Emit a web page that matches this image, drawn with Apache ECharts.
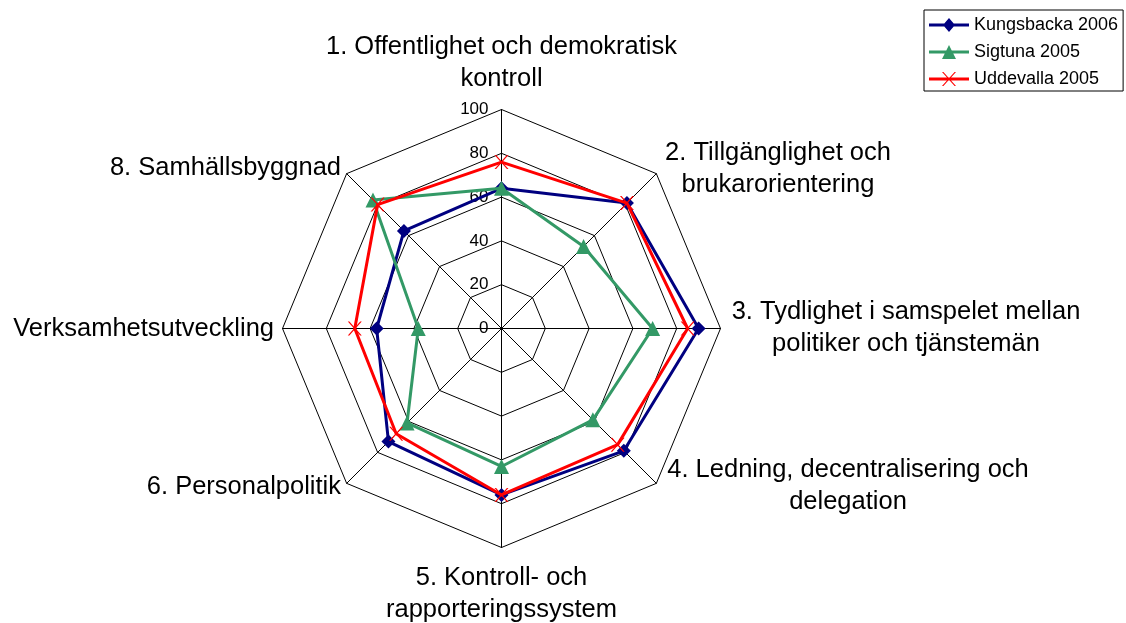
<!DOCTYPE html>
<html><head><meta charset="utf-8">
<script src="https://cdn.jsdelivr.net/npm/echarts@6/dist/echarts.min.js"></script>
<style>html,body{margin:0;padding:0;background:#fff}#c{width:1126px;height:623px}</style>
</head><body><div id="c"></div>
<script>
const categories = [
  '1. Offentlighet och demokratisk\nkontroll',
  '2. Tillgänglighet och\nbrukarorientering',
  '3. Tydlighet i samspelet mellan\npolitiker och tjänstemän',
  '4. Ledning, decentralisering och\ndelegation',
  '5. Kontroll- och\nrapporteringssystem',
  '6. Personalpolitik',
  'Verksamhetsutveckling',
  '8. Samhällsbyggnad'
];
const kungsbacka2006 = [64, 81, 90, 79, 76, 73, 57, 63];
const sigtuna2005   = [64, 53, 69, 59, 63, 61, 38, 83];
const uddevalla2005 = [76, 81, 85, 75, 76, 68, 67, 80];
const tickLabels = ['0', '20', '40', '60', '80', '100'];
const seriesNames = ['Kungsbacka 2006', 'Sigtuna 2005', 'Uddevalla 2005'];

const FONT = '"Liberation Sans", Arial, sans-serif';
const cx = 501.5, cy = 328.5, R = 219;
// radar places indicators counter-clockwise; reference runs clockwise
const order = [0, 7, 6, 5, 4, 3, 2, 1];

const xPath = 'path://M0,0L1.6,0L14,14L12.4,14Z M1.6,14L0,14L12.4,0L14,0Z';
const legendIcons = [
  'path://M0,5.5L15.3,5.5L20,0L24.7,5.5L40,5.5L40,8.5L24.7,8.5L20,14L15.3,8.5L0,8.5Z',
  'path://M0,5.5L17.25,5.5L20,0L22.75,5.5L40,5.5L40,8.5L24.25,8.5L27,14L13,14L15.75,8.5L0,8.5Z',
  'path://M0,5.5L40,5.5L40,8.5L0,8.5Z M13,0L14.4,0L27,14L25.6,14Z M14.4,14L13,14L25.6,0L27,0Z'
];

// axis name label layout: [x, y, align]
const nameLayout = [
  [501.5, 63, 'center'],
  [778, 169, 'center'],
  [906, 327.5, 'center'],
  [848, 486, 'center'],
  [501.5, 594, 'center'],
  [341, 487, 'right'],
  [274, 329, 'right'],
  [341, 168, 'right']
];

const chart = echarts.init(document.getElementById('c'), null, {renderer: 'canvas'});

function mkSeries(name, values, color, symbol, size, z) {
  return {
    type: 'radar', name: name, z: z,
    symbol: symbol, symbolSize: size,
    lineStyle: {width: 3, color: color},
    itemStyle: {color: color},
    emphasis: {disabled: true},
    data: [{name: name, value: order.map(i => values[i])}]
  };
}

chart.setOption({
  animation: false,
  backgroundColor: '#fff',
  radar: {
    center: [cx, cy], radius: R, startAngle: 90, splitNumber: 5, shape: 'polygon',
    indicator: order.map(i => ({name: categories[i], min: 0, max: 100})),
    axisName: {show: false},
    axisLine: {lineStyle: {color: '#000', width: 1}},
    splitLine: {lineStyle: {color: '#000', width: 1}},
    splitArea: {show: false},
    axisTick: {show: false},
    axisLabel: {show: false}
  },
  polar: {center: [cx, cy], radius: R},
  angleAxis: {startAngle: 90, min: 0, max: 360, show: false},
  radiusAxis: {
    min: 0, max: 100, interval: 20,
    axisLine: {show: false}, axisTick: {show: false}, splitLine: {show: false},
    axisLabel: {fontSize: 17, color: '#000', fontFamily: FONT, margin: 13,
      formatter: (v, i) => tickLabels[i]}
  },
  legend: {
    orient: 'vertical', left: 924, top: 10, padding: [6, 5, 3, 5],
    itemWidth: 40, itemHeight: 14, itemGap: 9,
    borderColor: '#000', borderWidth: 1, selectedMode: false,
    textStyle: {fontSize: 18, color: '#000', fontFamily: FONT, lineHeight: 18},
    data: seriesNames.map((n, i) => ({name: n, icon: legendIcons[i]}))
  },
  graphic: categories.map((t, i) => ({
    type: 'text', x: nameLayout[i][0], y: nameLayout[i][1], silent: true,
    style: {text: t, fill: '#000', fontSize: 25.5, fontFamily: FONT,
      align: nameLayout[i][2], verticalAlign: 'middle', lineHeight: 32}
  })),
  series: [
    mkSeries(seriesNames[0], kungsbacka2006, '#000080', 'diamond', 14, 2),
    mkSeries(seriesNames[1], sigtuna2005, '#339966', 'triangle', 15, 3),
    mkSeries(seriesNames[2], uddevalla2005, '#ff0000', xPath, 14, 4)
  ]
});
</script></body></html>
